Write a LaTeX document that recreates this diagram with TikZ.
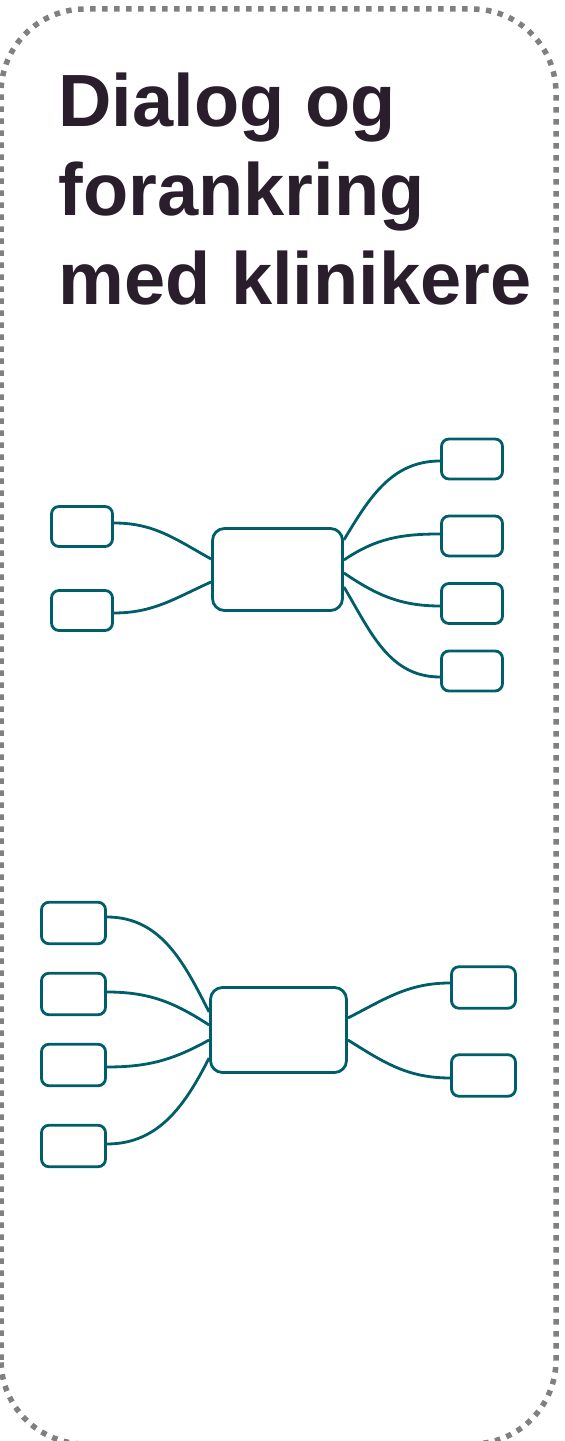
\documentclass[tikz,border=0pt]{standalone}
\usepackage{fontspec}
\setmainfont{Liberation Sans}
\definecolor{petrol}{RGB}{0,94,106}
\definecolor{frame}{RGB}{128,128,128}
\definecolor{ink}{RGB}{42,29,44}
\tikzset{
  every box/.style={draw=petrol, line width=2.8pt, inner sep=0pt, fill=white},
  leaf/.style={every box, rounded corners=7.5pt, minimum width=61pt, minimum height=40pt},
  wide leaf/.style={every box, rounded corners=7.5pt, minimum width=64pt, minimum height=41.5pt},
  hub/.style={every box, rounded corners=12pt},
  link/.style={draw=petrol, line width=2.8pt},
}
\begin{document}
\begin{tikzpicture}[x=1pt, y=1pt]

    \useasboundingbox (0,0) rectangle (565,1441);

    % ================================================================================================
    % 框
    % ================================================================================================
    \draw [frame, line width=5.5pt, dash pattern=on 5.5pt off 6.5pt, rounded corners=84pt]
    (1,-3) rectangle (556,1432);

    \node [anchor=base west, align=left, text=ink, font=\bfseries\fontsize{74}{89}\selectfont]
    (title) at (55,1136) {Dialog og\\forankring\\med klinikere};

    % ================================================================================================
    % 上图
    % ================================================================================================
    \node [hub, minimum width=130pt, minimum height=82pt] (top-hub) at (277.5,871.5) {};

    \foreach \y [count=\i] in {914.5,830.5}
    \node [leaf] (top-left-\i) at (82,\y) {};

    \foreach \y [count=\i] in {982,905,837.5,770}
    \node [leaf] (top-right-\i) at (472,\y) {};

    % ================================================================================================
    % 下图
    % ================================================================================================
    \node [hub, minimum width=136pt, minimum height=85pt] (bottom-hub) at (278.5,411) {};

    \foreach \y [count=\i] in {518,447,376,295}
    \node [wide leaf] (bottom-left-\i) at (73.5,\y) {};

    \foreach \y [count=\i] in {453.5,365.5}
    \node [wide leaf] (bottom-right-\i) at (483.5,\y) {};

    % ================================================================================================
    % 连接
    % ================================================================================================
    \foreach \s/\o/\t [count=\i] in {10.5/151/3.5, -12.5/204/-2.5}
    \draw [link] ([yshift=\s]top-hub.west) to [out=\o, in=0] ([yshift=\t]top-left-\i.east);

    \foreach \s/\o/\t [count=\i] in {29.5/59/-2, 9.5/34/2, -3.5/-34/-2.5, -17.5/-59/-6}
    \draw [link] ([yshift=\s]top-hub.east) to [out=\o, in=180] ([yshift=\t]top-right-\i.west);

    \foreach \s/\o/\t [count=\i] in {18/117/6, 5/147/2, -10/209/-2, -28/243/2}
    \draw [link] ([yshift=\s]bottom-hub.west) to [out=\o, in=0] ([yshift=\t]bottom-left-\i.east);

    \foreach \s/\o/\t [count=\i] in {12/27/4.5, -10/-32/-2.5}
    \draw [link] ([yshift=\s]bottom-hub.east) to [out=\o, in=180] ([yshift=\t]bottom-right-\i.west);

\end{tikzpicture}
\end{document}
